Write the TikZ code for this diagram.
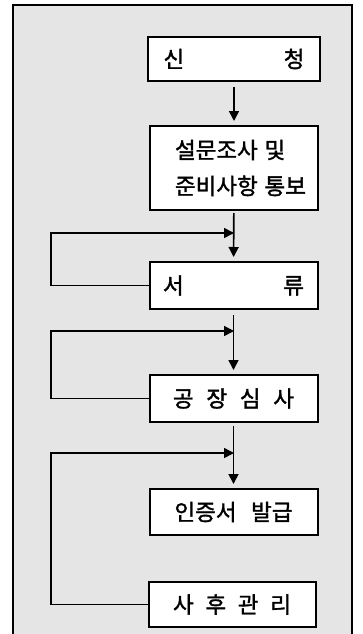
\documentclass[tikz,border=0pt]{standalone}
\usepackage{fontspec}
\setmainfont{Noto Sans CJK KR}[FakeBold=1.5]
\usetikzlibrary{arrows.meta}
\begin{document}
\begin{tikzpicture}[x=1pt,y=-1pt,
  box/.style={draw, line width=2pt, fill=white, minimum width=168pt, inner sep=0pt, font=\fontsize{22.5}{36}\selectfont},
  conn/.style={line width=1.6pt},
  arr/.style={conn, -{Triangle[length=10pt,width=10pt]}},
  frame/.style={line width=1.5pt}
]
\useasboundingbox (0,0) rectangle (362,634);
\fill[white] (0,0) rectangle (362,634);
\fill[black!10] (13,5) rectangle (352,634);
\draw[frame] (13,640) -- (13,5) -- (352,5) -- (352,640);

\node[box, minimum width=172pt, minimum height=44pt] (b1) at (234,59) {\makebox[141pt][s]{신 청}};
\node[box, minimum height=84pt, align=left] (b2) at (234,168)
  {\makebox[118pt][l]{설문조사\hspace{0.3em}및}\\\makebox[118pt][l]{준비사항\hspace{0.3em}통보}};
\node[box, minimum height=47pt] (b3) at (233.5,285.5) {\makebox[141pt][s]{서 류}};
\node[box, minimum height=47pt] (b4) at (233.5,398.5) {\makebox[121pt][s]{공 장 심 사}};
\node[box, minimum height=46pt] (b5) at (233.5,512) {\makebox[118pt][s]{인증서 발급}};
\node[box, minimum width=167pt, minimum height=45pt] (b6) at (232,604.5) {\makebox[118pt][s]{사 후 관 리}};

\coordinate (j1) at (234,233);
\coordinate (l1) at (51,233);
\coordinate (j2) at (234,331);
\coordinate (l2) at (51,331);
\coordinate (j3) at (234,453);
\coordinate (l3) at (51,453);

\draw[arr, shorten <=5pt, shorten >=4pt] (b1) -- (b2);
\draw[arr, shorten <=2pt, shorten >=4pt] (b2) -- (b3);
\draw[arr, shorten <=5pt, shorten >=4pt] (b3) -- (b4);
\draw[arr, shorten <=3pt, shorten >=4pt] (b4) -- (b5);

\draw[arr] (b3.west) -| (l1) -- (j1);
\draw[arr] (b4.west) -| (l2) -- (j2);
\draw[arr] (b6.west) -| (l3) -- (j3);
\end{tikzpicture}
\end{document}
